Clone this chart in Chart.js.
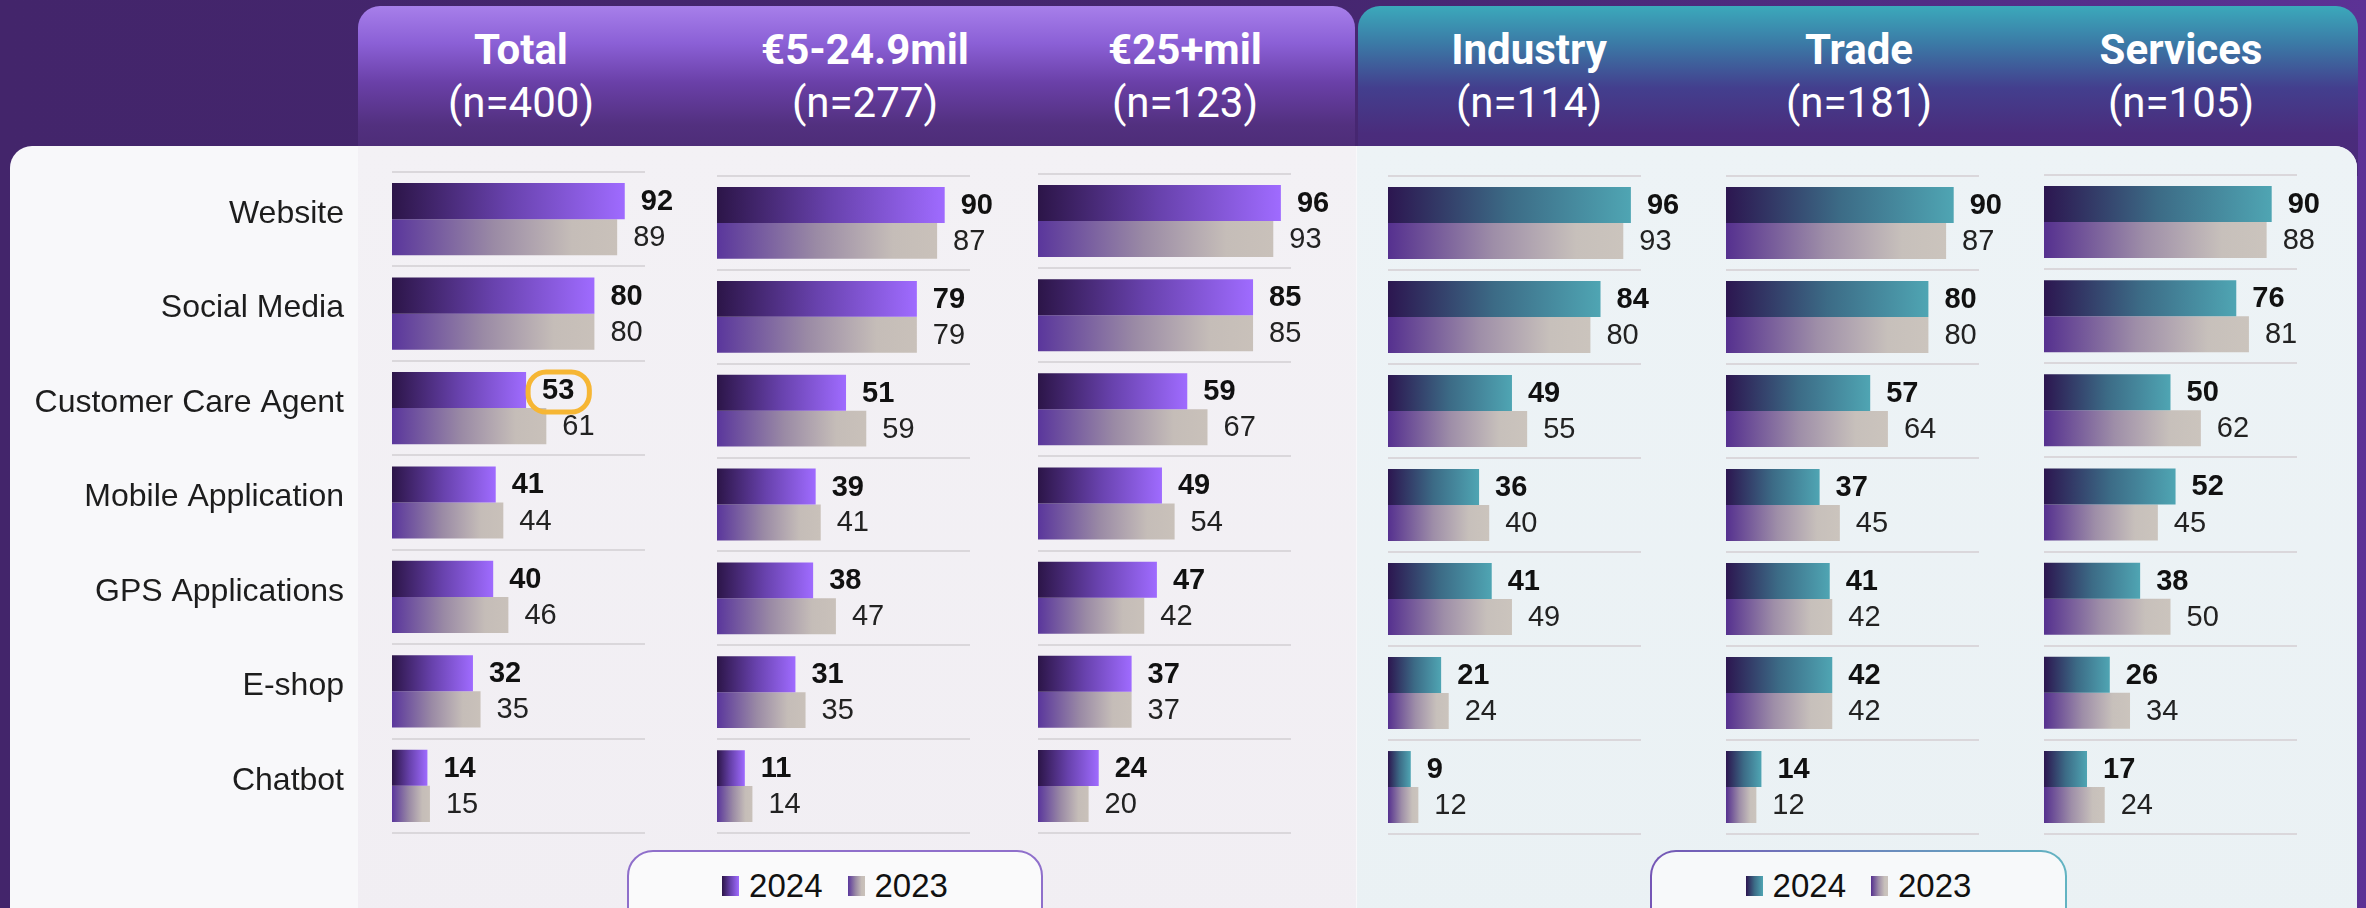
<!DOCTYPE html>
<html>
<head>
<meta charset="utf-8">
<script src="https://cdn.jsdelivr.net/npm/chart.js@4.4.1/dist/chart.umd.min.js"></script>
<style>
html,body{margin:0;padding:0;width:2366px;height:908px;overflow:hidden;}
body{position:relative;background:linear-gradient(90deg,#43256b 0%,#45266f 55%,#532e88 85%,#5c3295 100%);font-family:"Liberation Sans",Arial,sans-serif;}
.hdr{position:absolute;top:6px;height:170px;border-radius:22px 22px 0 0;}
#hdrP{left:358px;width:997px;background:linear-gradient(180deg,#a77fea 0%,#8b60d6 22%,#6a40a8 45%,#52307f 70%,#47286f 100%);}
#hdrT{left:1358px;width:1000px;background:linear-gradient(180deg,#3ba9bb 0%,#3b7aa6 22%,#433f8e 48%,#4a2c7c 75%,#4a2a78 100%);}
#panel{position:absolute;left:10px;top:146px;width:2347px;height:800px;border-radius:22px;background:#f8f8fa;overflow:hidden;}
.tint{position:absolute;top:0;height:100%;}
#tintP{left:348px;width:998px;background:linear-gradient(180deg,#f3f1f5,#f1eef3);}
#tintT{left:1347px;width:1000px;background:linear-gradient(180deg,#edf3f6,#eaf1f4);}
.ht{position:absolute;width:400px;text-align:center;color:#fff;font-family:Roboto,sans-serif;font-size:42px;line-height:52px;white-space:nowrap;}
.ht.b{font-weight:bold;}
.cw{position:absolute;}
.leg{position:absolute;top:850px;height:90px;box-sizing:border-box;border-radius:26px;display:flex;justify-content:center;align-items:flex-start;padding-top:14px;font-size:33px;line-height:40px;color:#111;}
#legL{left:627px;width:416px;border:2px solid #8f6fcb;background:#fafafb;}
#legR{left:1650px;width:417px;border:2px solid transparent;background:linear-gradient(#f7f9fa,#f7f9fa) padding-box,linear-gradient(90deg,#7556b6,#62b4c2) border-box;}
.mk{display:inline-block;width:17px;height:20px;margin:10px 10px 0 0;}
.item{display:flex;align-items:flex-start;}
.item+.item{margin-left:25px;}
</style>
</head>
<body>
<div class="hdr" id="hdrP"></div>
<div class="hdr" id="hdrT"></div>
<div id="panel"><div class="tint" id="tintP"></div><div class="tint" id="tintT"></div></div>
<div id="stage"></div>
<div class="leg" id="legL"></div>
<div class="leg" id="legR"></div>
<script>
// ---------- data ----------
const categories = ['Website','Social Media','Customer Care Agent','Mobile Application','GPS Applications','E-shop','Chatbot'];
const groups = ['Total','€5-24.9mil','€25+mil','Industry','Trade','Services'];
const sampleSizes = ['(n=400)','(n=277)','(n=123)','(n=114)','(n=181)','(n=105)'];
const seriesNames = ['2024','2023'];

const total2024    = [92, 80, 53, 41, 40, 32, 14];
const total2023    = [89, 80, 61, 44, 46, 35, 15];
const small2024    = [90, 79, 51, 39, 38, 31, 11];
const small2023    = [87, 79, 59, 41, 47, 35, 14];
const large2024    = [96, 85, 59, 49, 47, 37, 24];
const large2023    = [93, 85, 67, 54, 42, 37, 20];
const industry2024 = [96, 84, 49, 36, 41, 21, 9];
const industry2023 = [93, 80, 55, 40, 49, 24, 12];
const trade2024    = [90, 80, 57, 37, 41, 42, 14];
const trade2023    = [87, 80, 64, 45, 42, 42, 12];
const services2024 = [90, 76, 50, 52, 38, 26, 17];
const services2023 = [88, 81, 62, 45, 50, 34, 24];

const values2024 = [total2024, small2024, large2024, industry2024, trade2024, services2024];
const values2023 = [total2023, small2023, large2023, industry2023, trade2023, services2023];
const highlight = {panel: 0, series: 0, index: 2};

// ---------- layout / style (not data) ----------
const areaLeft   = [392, 717, 1038, 1388, 1726, 2044];
const areaTop    = [172, 176, 174, 176, 176, 175];
const areaBottom = [833, 833, 833, 834, 834, 834];
const areaWidth  = 253;
const headerCenter = [521, 865, 1185, 1529, 1859, 2181];
const theme = ['purple','purple','purple','teal','teal','teal'];
const stops = {
  purple: [[[0,'#2c1548'],[0.5,'#6842ad'],[1,'#9f6bff']], [[0,'#5a369c'],[0.45,'#9a8aa5'],[0.8,'#c5bdb8'],[1,'#c9c1ba']]],
  teal:   [[[0,'#2c1650'],[0.5,'#3c6b86'],[1,'#4fa5b3']], [[0,'#55308f'],[0.45,'#9e8ea8'],[0.8,'#c7c0bb'],[1,'#cbc4bd']]]
};

function barGradient(st){
  return function(c){
    const chart = c.chart, sx = chart.scales && chart.scales.x;
    if(!chart.chartArea || !sx || typeof c.raw !== 'number') return st[st.length-1][1];
    const x0 = sx.getPixelForValue(0), x1 = sx.getPixelForValue(c.raw);
    const g = chart.ctx.createLinearGradient(x0, 0, Math.max(x1, x0+1), 0);
    st.forEach(s => g.addColorStop(s[0], s[1]));
    return g;
  };
}

const valueLabels = {
  id: 'valueLabels',
  afterDatasetsDraw(chart, args, opts){
    const ctx = chart.ctx;
    chart.data.datasets.forEach((ds, di) => {
      const meta = chart.getDatasetMeta(di);
      meta.data.forEach((el, i) => {
        const txt = String(ds.data[i]);
        ctx.save();
        ctx.font = (di === 0 ? 'bold ' : '') + '29px "Liberation Sans", Arial, sans-serif';
        ctx.fillStyle = di === 0 ? '#111111' : '#222222';
        ctx.textAlign = 'left';
        ctx.textBaseline = 'middle';
        const tx = el.x + 16, ty = el.y + 1;
        ctx.fillText(txt, tx, ty);
        if (opts.hl && opts.hl.series === di && opts.hl.index === i) {
          const w = ctx.measureText(txt).width;
          ctx.lineWidth = 5;
          ctx.strokeStyle = '#f6b634';
          ctx.beginPath();
          ctx.roundRect(tx - 14, ty - 19, w + 29, 40, 18);
          ctx.stroke();
        }
        ctx.restore();
      });
    });
  }
};

// headers
groups.forEach((g, p) => {
  const t = document.createElement('div');
  t.className = 'ht b'; t.textContent = g;
  t.style.left = (headerCenter[p] - 200) + 'px'; t.style.top = '24px';
  document.body.appendChild(t);
  const s = document.createElement('div');
  s.className = 'ht'; s.textContent = sampleSizes[p];
  s.style.left = (headerCenter[p] - 200) + 'px'; s.style.top = '77px';
  document.body.appendChild(s);
});

// legends
function buildLegend(id, th){
  const box = document.getElementById(id);
  seriesNames.forEach((n, k) => {
    const it = document.createElement('div'); it.className = 'item';
    const mk = document.createElement('span'); mk.className = 'mk';
    mk.style.background = 'linear-gradient(90deg,' + stops[th][k].map(s => s[1] + ' ' + (s[0]*100) + '%').join(',') + ')';
    const tx = document.createElement('span'); tx.textContent = n;
    it.appendChild(mk); it.appendChild(tx); box.appendChild(it);
  });
}
buildLegend('legL', 'purple');
buildLegend('legR', 'teal');

// charts
const PT = 8, PB = 8, RM = 62;
const stage = document.getElementById('stage');
groups.forEach((g, p) => {
  const lm = p === 0 ? areaLeft[0] : 10;
  const wrap = document.createElement('div');
  wrap.className = 'cw';
  wrap.style.left = (areaLeft[p] - lm) + 'px';
  wrap.style.top = (areaTop[p] - PT) + 'px';
  wrap.style.width = (lm + areaWidth + RM) + 'px';
  wrap.style.height = (areaBottom[p] - areaTop[p] + PT + PB) + 'px';
  const cv = document.createElement('canvas');
  wrap.appendChild(cv); stage.appendChild(wrap);
  const st = stops[theme[p]];
  new Chart(cv, {
    type: 'bar',
    data: {
      labels: categories,
      datasets: [
        {label: seriesNames[0], data: values2024[p], backgroundColor: barGradient(st[0]), borderWidth: 0, barPercentage: 1, categoryPercentage: 0.765},
        {label: seriesNames[1], data: values2023[p], backgroundColor: barGradient(st[1]), borderWidth: 0, barPercentage: 1, categoryPercentage: 0.765}
      ]
    },
    options: {
      indexAxis: 'y',
      responsive: true,
      maintainAspectRatio: false,
      animation: false,
      events: [],
      layout: {padding: {left: 0, right: RM, top: PT, bottom: PB}},
      plugins: {
        legend: {display: false},
        tooltip: {enabled: false},
        valueLabels: {hl: highlight.panel === p ? highlight : null}
      },
      scales: {
        x: {display: false, min: 0, max: 100},
        y: {
          type: 'category',
          offset: true,
          grid: {offset: true, color: '#dad7db', lineWidth: 2, drawTicks: false},
          border: {display: false},
          ticks: {
            display: p === 0, padding: 48, autoSkip: false, labelOffset: -5,
            color: '#1d1d1d', font: {family: '"Liberation Sans", Arial, sans-serif', size: 32}
          },
          afterFit: (s) => { s.width = lm; s.paddingTop = 0; s.paddingBottom = 0; }
        }
      }
    },
    plugins: [valueLabels]
  });
});
</script>
</body>
</html>
